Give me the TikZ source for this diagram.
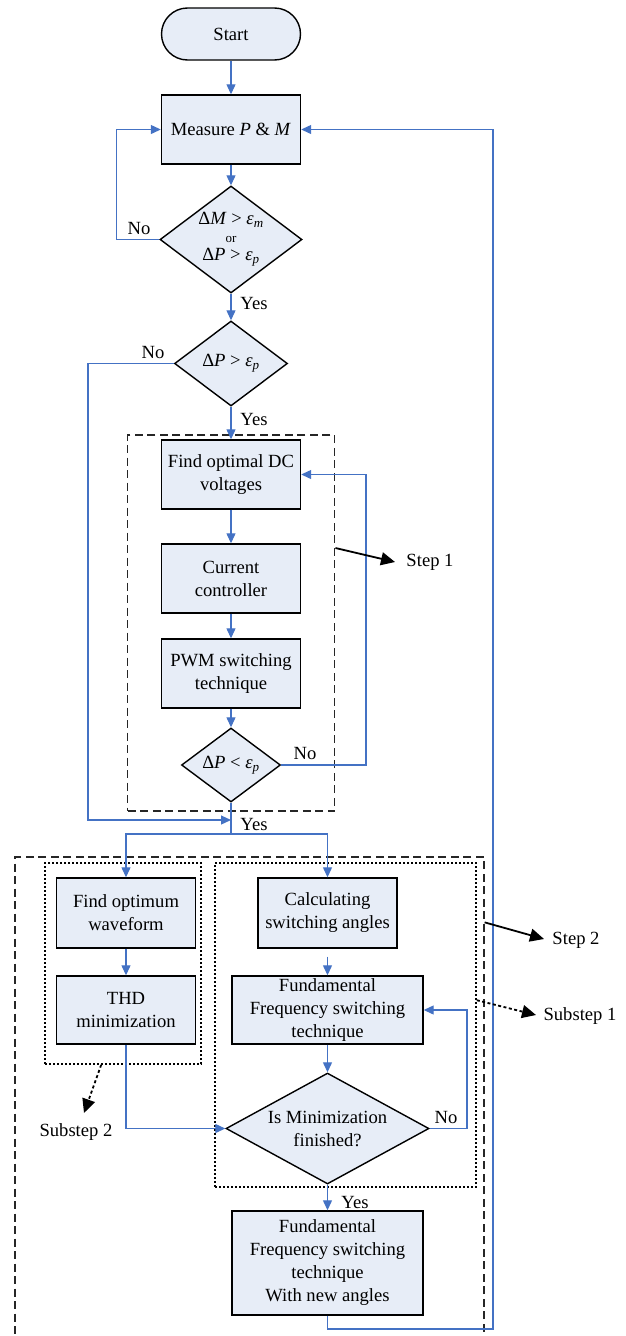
\documentclass[tikz,border=0pt]{standalone}
\usepackage{fontspec}
\setmainfont{Liberation Serif}
\usetikzlibrary{arrows.meta,shapes.geometric,calc}
\definecolor{flow}{RGB}{68,114,196}
\definecolor{boxfill}{RGB}{231,237,247}
\begin{document}
\begin{tikzpicture}[x=1pt,y=-1pt,
  font=\fontsize{18.6}{23}\selectfont,
  proc/.style={draw=black,line width=1.4pt,fill=boxfill,rectangle,inner sep=0pt,align=center,minimum width=139pt,minimum height=69pt},
  term/.style={draw=black,line width=1.4pt,fill=boxfill,rectangle,rounded corners=26pt,inner sep=0pt,minimum width=139pt,minimum height=52pt},
  dia/.style={draw=black,line width=1.4pt,fill=boxfill,diamond,inner sep=0pt},
  diatext/.style={inner sep=0pt,align=center},
  arr/.style={draw=flow,line width=1.2pt,-{Triangle[length=10pt,width=9pt]}},
  link/.style={draw=flow,line width=1.2pt},
  lbl/.style={inner sep=0pt},
  stepframe/.style={draw=black!85,line width=1.3pt,dash pattern=on 8pt off 4.5pt,inner sep=0pt},
  subframe/.style={draw=black,line width=1.6pt,dash pattern=on 2pt off 2pt,inner sep=0pt},
  steparr/.style={draw=black,line width=1.8pt,-{Triangle[length=14pt,width=13pt]}},
  subarr/.style={draw=black,line width=1.8pt,dash pattern=on 3pt off 2.5pt,-{Triangle[length=14pt,width=13pt]}}
]
\useasboundingbox (0,0) rectangle (625,1336);
\clip (0,0) rectangle (625,1336);

% frames
\node[stepframe,minimum width=207pt,minimum height=376pt] (s1) at (231.3,623) {};
\node[stepframe,minimum width=469pt,minimum height=543pt] (s2) at (249.5,1128.5) {};
\node[subframe,minimum width=156pt,minimum height=201pt] (sub2) at (123,963.5) {};
\node[subframe,minimum width=261pt,minimum height=324pt] (sub1) at (345.5,1025) {};

% nodes
\node[term] (start) at (231,34) {Start};
\node[proc] (measure) at (231,129.5) {Measure \textit{P} \& \textit{M}};
\node[dia,minimum width=142pt,minimum height=107pt] (d1) at (231,239.5) {};
\node[diatext,font=\fontsize{18.6}{18}\selectfont] at (d1.center) {Δ\textit{M} > \textit{ε}\textsubscript{\textit{m}}\\{\fontsize{13}{18}\selectfont or}\\Δ\textit{P} > \textit{ε}\textsubscript{\textit{p}}};
\node[dia,minimum width=113pt,minimum height=85pt] (d2) at (231,363.5) {};
\node[diatext] at (d2.center) {Δ\textit{P} > \textit{ε}\textsubscript{\textit{p}}};
\node[proc] (dc) at (231,474.5) {Find optimal DC\\voltages};
\node[proc] (cc) at (231,578.5) {Current\\controller};
\node[proc] (pwm) at (231,673.5) {PWM switching\\technique};
\node[dia,minimum width=99pt,minimum height=74pt] (d3) at (231,765) {};
\node[diatext] at (d3.center) {Δ\textit{P} < \textit{ε}\textsubscript{\textit{p}}};
\node[proc,minimum height=70pt] (opt) at (126,913) {Find optimum\\waveform};
\node[proc,minimum height=68pt] (thd) at (126,1010) {THD\\minimization};
\node[proc,minimum height=70pt] (calc) at (327.5,913) {Calculating\\switching angles};
\node[proc,minimum width=191pt,minimum height=68pt] (ff) at (327.5,1010) {Fundamental\\Frequency switching\\technique};
\node[dia,minimum width=203pt,minimum height=111pt] (d4) at (327.5,1128.5) {};
\node[diatext] at (d4.center) {Is Minimization\\finished?};
\node[proc,minimum width=191pt,minimum height=104pt] (fin) at (327.5,1263) {Fundamental\\Frequency switching\\technique\\With new angles};

% coordinates
\coordinate (n2) at (88,820);
\coordinate (j1) at (231,820);
\coordinate (split) at (231,834);
\coordinate (r1) at (493,1329);
\coordinate (r2) at (493,129.5);
\coordinate (t1) at (395,562);
\coordinate (t2) at (544,939);
\coordinate (t3) at (536,1015);
\coordinate (t4) at (84,1113);

% connectors
\draw[arr] (start) -- (measure);
\draw[arr] (measure) -- (d1);
\draw[arr] (d1.west) -- ++(-43,0) |- (measure.west);
\draw[arr] (d1) -- (d2);
\draw[arr] (d2.west) -| (n2) -- (j1);
\draw[arr] (d2) -- (dc);
\draw[arr] (dc) -- (cc);
\draw[arr] (cc) -- (pwm);
\draw[arr] (pwm) -- (d3);
\draw[arr] (d3.east) -- (366,765) |- (dc.east);
\draw[link] (d3.south) -- (split);
\draw[arr] (split) -| (opt.north);
\draw[arr] (split) -| (calc.north);
\draw[arr] (opt) -- (thd);
\draw[arr] (thd.south) |- (d4.west);
\draw[arr] ([yshift=-8pt]calc.south) -- (ff.north);
\draw[arr] (ff) -- (d4);
\draw[arr] (d4.east) -- (467,1128.5) |- (ff.east);
\draw[arr] (d4) -- (fin);
\draw[arr] (fin.south) |- (r1) -- (r2) -- (measure.east);

% labels
\node[lbl] at (139,228) {No};
\node[lbl] at (254,303) {Yes};
\node[lbl] at (153,352) {No};
\node[lbl] at (254,419) {Yes};
\node[lbl] at (305,753) {No};
\node[lbl] at (254,824) {Yes};
\node[lbl] at (446,1117) {No};
\node[lbl] at (355,1202) {Yes};

% step pointers
\draw[steparr] ($(s1.east)+(0,-75)$) -- (t1);
\node[lbl] at (430,562) {Step 1};
\draw[steparr] ($(s2.north east)+(0,66)$) -- (t2);
\node[lbl] at (576,940) {Step 2};
\draw[subarr] ($(sub1.north east)+(0,138)$) -- (t3);
\node[lbl] at (580,1016) {Substep 1};
\draw[subarr] ($(sub2.south west)+(57,0)$) -- (t4);
\node[lbl] at (76,1132) {Substep 2};
\end{tikzpicture}
\end{document}
